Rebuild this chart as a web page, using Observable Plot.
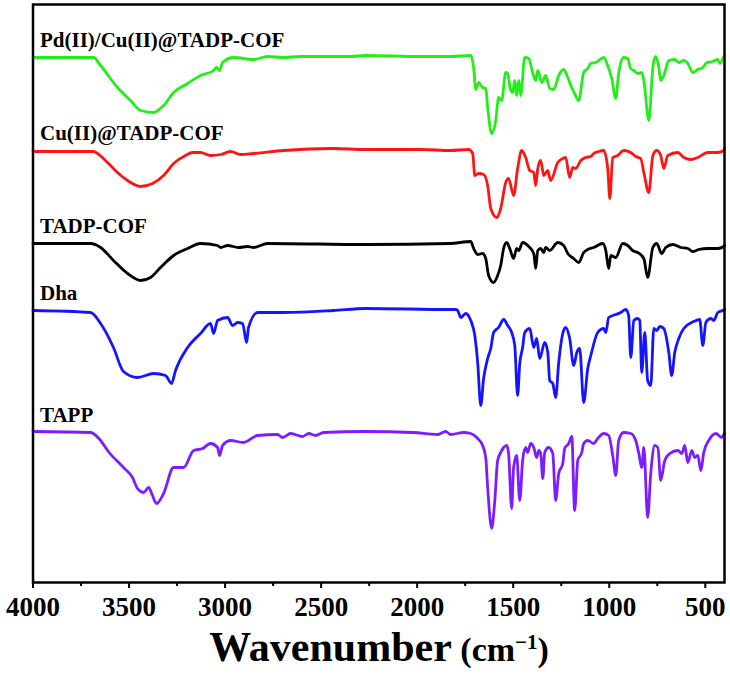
<!DOCTYPE html>
<html><head><meta charset="utf-8">
<script src="https://cdn.jsdelivr.net/npm/d3@7"></script>
<script src="https://cdn.jsdelivr.net/npm/@observablehq/plot@0.6"></script>
<style>
body{margin:0;background:#fff;}
#wrap{position:relative;width:730px;height:677px;overflow:hidden;}
#xlabel{position:absolute;left:33px;width:692px;top:632px;text-align:center;font-family:"Liberation Serif","Times New Roman",serif;font-weight:bold;line-height:0.75;white-space:nowrap;color:#000;}
#xlabel span{line-height:0.75;}
#xlabel sup{font-size:21px;line-height:0;}
</style></head><body>
<div id="wrap"><div id="chart"></div>
<div id="xlabel"><span style="font-size:42px">Wavenumber</span><span style="font-size:34px"> (cm<sup>−1</sup>)</span></div></div>
<script>
// FTIR spectra: [wavenumber (cm-1), relative transmittance (a.u., 0 = baseline)]
const pdcuCOF = [[4000,0],[3685,0],[3648,-8],[3560,-30],[3492,-43],[3440,-53],[3372,-55],[3320,-48],[3268,-35],[3195,-26],[3128,-18],[3060,-13],[3044,-10],[3029,-13],[3013,-5],[2956,0],[2852,-2],[2779,1],[2695,0],[2607,1],[2346,1],[2268,2],[1982,1],[1826,1],[1721,2],[1706,-10],[1695,-32],[1680,-25],[1659,-30],[1643,-31],[1633,-50],[1612,-76],[1591,-63],[1576,-40],[1560,-43],[1539,-15],[1529,-16],[1513,-33],[1503,-35],[1492,-23],[1482,-38],[1471,-23],[1461,-38],[1440,0],[1419,-1],[1399,-15],[1383,-23],[1372,-13],[1351,-25],[1331,-18],[1310,-31],[1289,-32],[1263,-18],[1237,-12],[1216,-20],[1200,-28],[1180,-36],[1159,-43],[1133,-15],[1112,-11],[1096,-6],[1070,-5],[1029,0],[1008,-8],[987,-21],[966,-41],[951,-16],[925,0],[904,-1],[888,-11],[872,-13],[852,-16],[831,-15],[820,-23],[794,-63],[773,-10],[758,1],[742,-10],[732,-23],[716,-18],[690,-3],[659,-2],[638,-5],[612,-3],[591,-6],[565,-15],[539,-12],[513,-10],[492,-5],[461,-4],[435,-2],[424,-6],[404,1],[400,2]];
const cuCOF = [[4000,-1],[3685,-1],[3664,-3],[3612,-12],[3560,-22],[3508,-30],[3440,-36],[3378,-33],[3320,-25],[3268,-13],[3206,-5],[3169,-2],[3128,-2],[3076,-5],[3023,-4],[2971,-1],[2919,-4],[2852,-3],[2695,0],[2435,2],[2268,1],[1982,1],[1826,0],[1732,1],[1711,-3],[1700,-25],[1680,-23],[1654,-24],[1633,-35],[1617,-58],[1586,-67],[1565,-58],[1539,-32],[1524,-28],[1498,-45],[1477,-18],[1456,0],[1435,-7],[1414,-20],[1393,-22],[1383,-35],[1372,-18],[1357,-10],[1341,-25],[1320,-20],[1305,-30],[1268,-12],[1242,-8],[1227,-7],[1206,-27],[1190,-17],[1175,-18],[1148,-10],[1122,-7],[1096,-6],[1081,-3],[1055,-1],[1029,0],[1008,-18],[997,-48],[982,-7],[956,-5],[925,0],[888,-2],[862,-6],[836,-8],[820,-22],[794,-42],[773,-5],[753,0],[732,-5],[716,-18],[695,-5],[643,-2],[612,-7],[575,-9],[539,-7],[487,-2],[435,-2],[404,0],[400,2]];
const tadpCOF = [[4000,0],[3700,0],[3648,-4],[3581,-17],[3508,-30],[3440,-37],[3388,-34],[3336,-24],[3268,-12],[3195,-5],[3128,0],[3039,-2],[3023,-4],[2987,-2],[2930,-4],[2883,-3],[2852,-4],[2779,0],[2268,-1],[1826,0],[1721,2],[1706,-5],[1685,-11],[1659,-10],[1643,-15],[1628,-32],[1602,-39],[1581,-32],[1565,-22],[1550,-5],[1534,1],[1518,-5],[1498,-15],[1482,-5],[1471,-7],[1451,1],[1419,-3],[1393,-10],[1383,-25],[1372,-7],[1357,-5],[1341,-9],[1331,-4],[1310,-7],[1268,1],[1237,-2],[1216,-10],[1185,-15],[1159,-19],[1133,-9],[1112,-6],[1081,-4],[1034,0],[1018,-7],[1003,-25],[992,-12],[966,-14],[930,0],[904,-2],[878,-7],[852,-9],[820,-15],[800,-34],[773,-4],[753,0],[727,-10],[706,-4],[669,-1],[628,-4],[591,-5],[565,-8],[534,-6],[487,-5],[435,-5],[404,-3],[400,-2]];
const dha = [[4000,0],[3700,-2],[3648,-13],[3581,-37],[3529,-61],[3456,-67],[3372,-63],[3310,-65],[3279,-73],[3258,-60],[3195,-37],[3128,-23],[3076,-13],[3060,-23],[3039,-10],[2987,-7],[2961,-15],[2935,-12],[2909,-13],[2888,-32],[2878,-17],[2831,-2],[2695,-2],[2435,0],[2268,2],[1826,1],[1800,1],[1789,0],[1773,-7],[1747,-3],[1721,-10],[1700,-25],[1685,-52],[1669,-95],[1654,-68],[1633,-48],[1617,-38],[1602,-22],[1576,-17],[1550,-9],[1529,-15],[1508,-22],[1492,-35],[1477,-85],[1466,-53],[1451,-37],[1440,-22],[1414,-18],[1393,-37],[1378,-28],[1362,-48],[1336,-32],[1320,-42],[1310,-70],[1294,-73],[1279,-87],[1263,-52],[1242,-23],[1227,-17],[1206,-28],[1185,-55],[1169,-42],[1154,-38],[1133,-92],[1112,-58],[1096,-45],[1060,-22],[1029,-18],[1018,-22],[1003,-7],[966,-4],[940,-2],[914,1],[899,-5],[888,-47],[872,-10],[852,-8],[841,-10],[831,-62],[815,-22],[800,-70],[784,-75],[768,-18],[753,-20],[737,-16],[716,-18],[690,-42],[675,-65],[659,-42],[638,-28],[612,-18],[560,-11],[529,-9],[513,-35],[497,-12],[471,-8],[456,-10],[435,-2],[409,0],[400,1]];
const tapp = [[4000,1],[3700,0],[3648,-8],[3612,-18],[3529,-35],[3482,-45],[3456,-56],[3424,-60],[3398,-55],[3378,-63],[3357,-71],[3320,-61],[3268,-35],[3216,-35],[3164,-18],[3117,-16],[3076,-11],[3039,-15],[3029,-23],[3013,-13],[2971,-8],[2904,-10],[2831,-3],[2727,-2],[2701,-5],[2659,-1],[2596,-4],[2565,-1],[2529,-3],[2487,0],[2268,1],[2024,0],[1893,-2],[1852,1],[1826,-2],[1758,0],[1721,-1],[1685,-6],[1659,-13],[1643,-25],[1633,-55],[1612,-96],[1597,-71],[1581,-28],[1565,-20],[1550,-15],[1534,-13],[1524,-21],[1508,-76],[1498,-35],[1482,-23],[1466,-68],[1451,-28],[1435,-15],[1425,-20],[1409,-11],[1393,-15],[1378,-25],[1367,-18],[1357,-21],[1346,-46],[1336,-20],[1315,-15],[1294,-21],[1279,-68],[1263,-41],[1242,-31],[1232,-16],[1211,-11],[1195,-4],[1180,-78],[1164,-28],[1143,-20],[1133,-11],[1112,-8],[1081,-11],[1060,-6],[1029,-1],[1003,-3],[982,-23],[966,-43],[951,-8],[925,0],[888,-1],[862,-8],[846,-21],[831,-35],[820,-15],[800,-85],[784,-41],[763,-13],[747,-15],[732,-48],[711,-28],[685,-21],[643,-18],[622,-21],[607,-13],[591,-30],[570,-18],[555,-25],[539,-23],[523,-38],[508,-20],[482,-8],[445,-1],[414,-5],[404,-2],[400,-1]];

const names = ["Pd(II)/Cu(II)@TADP-COF", "Cu(II)@TADP-COF", "TADP-COF", "Dha", "TAPP"];
const spectra = [pdcuCOF, cuCOF, tadpCOF, dha, tapp];
const offsets = [525, 432, 339, 272, 150]; // vertical stacking offsets (a.u.)
const colors = ["#22ee1a", "#ff1414", "#000000", "#1414ff", "#7c1cff"];
const majorTicks = [4000, 3500, 3000, 2500, 2000, 1500, 1000, 500];
const minorTicks = [3750, 3250, 2750, 2250, 1750, 1250, 750];

const rows = spectra.flatMap((s, i) => s.map(([wn, v]) => ({name: names[i], wn, t: offsets[i] + v})));
const labels = names.map((name, i) => ({name, offset: offsets[i]}));
const serif = '"Liberation Serif", "Times New Roman", serif';

const chart = Plot.plot({
  width: 730, height: 626,
  marginLeft: 32.5, marginRight: 6, marginTop: 4, marginBottom: 44,
  x: {domain: [4000, 400]},
  y: {domain: [0, 578], axis: null},
  color: {domain: names, range: colors},
  style: {fontFamily: serif, color: "black", background: "white", overflow: "visible"},
  marks: [
    Plot.line(rows, {x: "wn", y: "t", z: "name", stroke: "name", strokeWidth: 2.8, curve: "monotone-x"}),
    Plot.text(labels, {x: 4000, y: "offset", text: "name", dx: 7, dy: -11, lineAnchor: "bottom", textAnchor: "start", fontSize: 21, fontWeight: "bold", fill: "black", fontFamily: serif}),
    Plot.frame({stroke: "black", strokeWidth: 2.5}),
    Plot.axisX({ticks: majorTicks, tickSize: 6, tickPadding: 8, tickFormat: "d", fontSize: 27, fontWeight: "bold", fontFamily: serif, label: null, strokeWidth: 2}),
    Plot.axisX({ticks: minorTicks, tickSize: 4, tickFormat: () => "", label: null, strokeWidth: 2})
  ]
});
document.getElementById("chart").appendChild(chart);
</script>
</body></html>
